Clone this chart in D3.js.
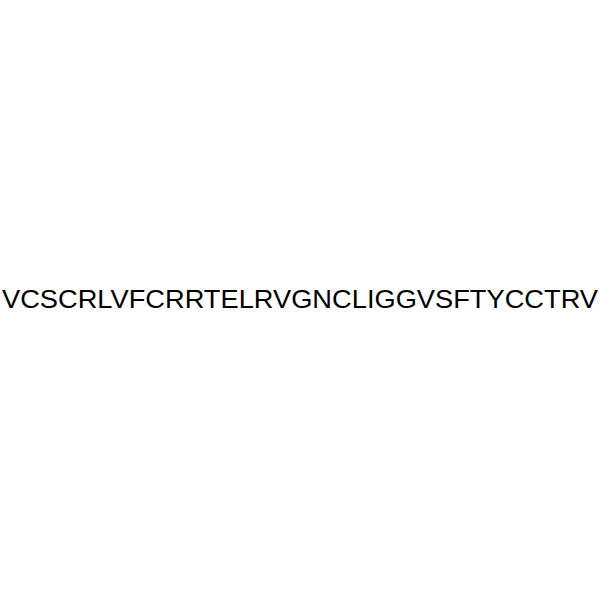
<!DOCTYPE html>
<html>
<head>
<meta charset="utf-8">
<script src="https://cdn.jsdelivr.net/npm/d3@7"></script>
<style>
  body { margin: 0; background: #fff; }
</style>
</head>
<body>
<script>
// peptide sequence, one letter per residue
var residues = ["V","C","S","C","R","L","V","F","C","R","R","T","E","L","R","V",
                "G","N","C","L","I","G","G","V","S","F","T","Y","C","C","T","R","V"];

var width = 600, height = 600;

var svg = d3.select("body").append("svg")
  .attr("width", width)
  .attr("height", height);

var label = svg.append("text")
  .attr("x", width / 2)
  .attr("y", 308)
  .attr("text-anchor", "middle")
  .style("font-family", "Arial, 'Liberation Sans', sans-serif")
  .style("font-size", "25px")
  .style("fill", "#000")
  .text(residues.join(""));

// stretch to the same span as the original (about 1..597)
var w = label.node().getComputedTextLength();
if (Math.abs(w - 596) > 2) {
  label.attr("textLength", 596).attr("lengthAdjust", "spacingAndGlyphs");
}
</script>
</body>
</html>
